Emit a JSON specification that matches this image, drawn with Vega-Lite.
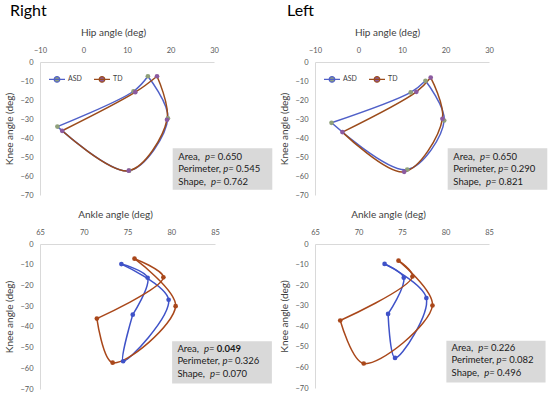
{
  "$schema": "https://vega.github.io/schema/vega-lite/v6.json",
  "background": "white",
  "padding": {"left": 4, "top": 3, "right": 0, "bottom": 0},
  "datasets": {
    "gait": [
      {"panel": "RH", "group": "ASD", "phase": "stance", "seq": 1, "angle": 14.8, "knee": -7.5},
      {"panel": "RH", "group": "ASD", "phase": "stance", "seq": 2, "angle": 11.5, "knee": -15.4},
      {"panel": "RH", "group": "ASD", "phase": "stance", "seq": 3, "angle": -6.0, "knee": -34.0},
      {"panel": "RH", "group": "ASD", "phase": "swing", "seq": 3, "angle": -6.0, "knee": -34.0},
      {"panel": "RH", "group": "ASD", "phase": "swing", "seq": 4, "angle": 10.5, "knee": -57.2},
      {"panel": "RH", "group": "ASD", "phase": "swing", "seq": 5, "angle": 19.4, "knee": -29.6},
      {"panel": "RH", "group": "ASD", "phase": "swing", "seq": 6, "angle": 14.8, "knee": -7.5},
      {"panel": "RH", "group": "TD", "phase": "stance", "seq": 1, "angle": 16.9, "knee": -7.5},
      {"panel": "RH", "group": "TD", "phase": "stance", "seq": 2, "angle": 11.9, "knee": -15.9},
      {"panel": "RH", "group": "TD", "phase": "stance", "seq": 3, "angle": -4.9, "knee": -36.2},
      {"panel": "RH", "group": "TD", "phase": "swing", "seq": 3, "angle": -4.9, "knee": -36.2},
      {"panel": "RH", "group": "TD", "phase": "swing", "seq": 4, "angle": 10.4, "knee": -57.2},
      {"panel": "RH", "group": "TD", "phase": "swing", "seq": 5, "angle": 19.2, "knee": -30.4},
      {"panel": "RH", "group": "TD", "phase": "swing", "seq": 6, "angle": 16.9, "knee": -7.5},
      {"panel": "LH", "group": "ASD", "phase": "stance", "seq": 1, "angle": 15.4, "knee": -9.9},
      {"panel": "LH", "group": "ASD", "phase": "stance", "seq": 2, "angle": 12.0, "knee": -16.0},
      {"panel": "LH", "group": "ASD", "phase": "stance", "seq": 3, "angle": -6.2, "knee": -32.0},
      {"panel": "LH", "group": "ASD", "phase": "swing", "seq": 3, "angle": -6.2, "knee": -32.0},
      {"panel": "LH", "group": "ASD", "phase": "swing", "seq": 4, "angle": 11.2, "knee": -56.6},
      {"panel": "LH", "group": "ASD", "phase": "swing", "seq": 5, "angle": 19.7, "knee": -30.8},
      {"panel": "LH", "group": "ASD", "phase": "swing", "seq": 6, "angle": 15.4, "knee": -9.9},
      {"panel": "LH", "group": "TD", "phase": "stance", "seq": 1, "angle": 16.6, "knee": -8.2},
      {"panel": "LH", "group": "TD", "phase": "stance", "seq": 2, "angle": 13.3, "knee": -15.7},
      {"panel": "LH", "group": "TD", "phase": "stance", "seq": 3, "angle": -3.7, "knee": -36.9},
      {"panel": "LH", "group": "TD", "phase": "swing", "seq": 3, "angle": -3.7, "knee": -36.9},
      {"panel": "LH", "group": "TD", "phase": "swing", "seq": 4, "angle": 10.5, "knee": -57.8},
      {"panel": "LH", "group": "TD", "phase": "swing", "seq": 5, "angle": 19.3, "knee": -29.9},
      {"panel": "LH", "group": "TD", "phase": "swing", "seq": 6, "angle": 16.6, "knee": -8.2},
      {"panel": "RA", "group": "ASD", "phase": "stance", "seq": 1, "angle": 74.3, "knee": -9.7},
      {"panel": "RA", "group": "ASD", "phase": "stance", "seq": 2, "angle": 77.3, "knee": -16.3},
      {"panel": "RA", "group": "ASD", "phase": "stance", "seq": 3, "angle": 75.6, "knee": -34.1},
      {"panel": "RA", "group": "ASD", "phase": "swing", "seq": 3, "angle": 75.6, "knee": -34.1},
      {"panel": "RA", "group": "ASD", "phase": "swing", "seq": 4, "angle": 74.5, "knee": -56.6},
      {"panel": "RA", "group": "ASD", "phase": "swing", "seq": 5, "angle": 79.7, "knee": -26.9},
      {"panel": "RA", "group": "ASD", "phase": "swing", "seq": 6, "angle": 74.3, "knee": -9.7},
      {"panel": "RA", "group": "TD", "phase": "stance", "seq": 1, "angle": 75.8, "knee": -7.1},
      {"panel": "RA", "group": "TD", "phase": "stance", "seq": 2, "angle": 79.1, "knee": -16.1},
      {"panel": "RA", "group": "TD", "phase": "stance", "seq": 3, "angle": 71.5, "knee": -36.0},
      {"panel": "RA", "group": "TD", "phase": "swing", "seq": 3, "angle": 71.5, "knee": -36.0},
      {"panel": "RA", "group": "TD", "phase": "swing", "seq": 4, "angle": 73.3, "knee": -57.3},
      {"panel": "RA", "group": "TD", "phase": "swing", "seq": 5, "angle": 80.5, "knee": -30.0},
      {"panel": "RA", "group": "TD", "phase": "swing", "seq": 6, "angle": 75.8, "knee": -7.1},
      {"panel": "LA", "group": "ASD", "phase": "stance", "seq": 1, "angle": 73.0, "knee": -9.7},
      {"panel": "LA", "group": "ASD", "phase": "stance", "seq": 2, "angle": 75.2, "knee": -16.4},
      {"panel": "LA", "group": "ASD", "phase": "stance", "seq": 3, "angle": 73.4, "knee": -34.0},
      {"panel": "LA", "group": "ASD", "phase": "swing", "seq": 3, "angle": 73.4, "knee": -34.0},
      {"panel": "LA", "group": "ASD", "phase": "swing", "seq": 4, "angle": 74.2, "knee": -55.4},
      {"panel": "LA", "group": "ASD", "phase": "swing", "seq": 5, "angle": 77.8, "knee": -26.3},
      {"panel": "LA", "group": "ASD", "phase": "swing", "seq": 6, "angle": 73.0, "knee": -9.7},
      {"panel": "LA", "group": "TD", "phase": "stance", "seq": 1, "angle": 74.6, "knee": -8.1},
      {"panel": "LA", "group": "TD", "phase": "stance", "seq": 2, "angle": 76.2, "knee": -15.8},
      {"panel": "LA", "group": "TD", "phase": "stance", "seq": 3, "angle": 67.9, "knee": -37.2},
      {"panel": "LA", "group": "TD", "phase": "swing", "seq": 3, "angle": 67.9, "knee": -37.2},
      {"panel": "LA", "group": "TD", "phase": "swing", "seq": 4, "angle": 70.6, "knee": -58.1},
      {"panel": "LA", "group": "TD", "phase": "swing", "seq": 5, "angle": 78.5, "knee": -29.9},
      {"panel": "LA", "group": "TD", "phase": "swing", "seq": 6, "angle": 74.6, "knee": -8.1}
    ],
    "stats": [
      {"panel": "RH", "metric": "Area", "label": "Area,", "p": 0.650},
      {"panel": "RH", "metric": "Perimeter", "label": "Perimeter,", "p": 0.545},
      {"panel": "RH", "metric": "Shape", "label": "Shape,", "p": 0.762},
      {"panel": "LH", "metric": "Area", "label": "Area,", "p": 0.650},
      {"panel": "LH", "metric": "Perimeter", "label": "Perimeter,", "p": 0.290},
      {"panel": "LH", "metric": "Shape", "label": "Shape,", "p": 0.821},
      {"panel": "RA", "metric": "Area", "label": "Area,", "p": 0.049},
      {"panel": "RA", "metric": "Perimeter", "label": "Perimeter,", "p": 0.326},
      {"panel": "RA", "metric": "Shape", "label": "Shape,", "p": 0.070},
      {"panel": "LA", "metric": "Area", "label": "Area,", "p": 0.226},
      {"panel": "LA", "metric": "Perimeter", "label": "Perimeter,", "p": 0.082},
      {"panel": "LA", "metric": "Shape", "label": "Shape,", "p": 0.496}
    ]
  },
  "config": {
    "font": "Lato",
    "view": {"stroke": null},
    "axis": {
      "grid": false, "ticks": false, "tickSize": 0, "domainColor": "#D9D9D9", "domainWidth": 1,
      "labelFont": "Lato", "labelFontSize": 7.5, "labelColor": "#595959", "labelFlush": false, "labelOverlap": false,
      "titleFont": "Lato", "titleFontSize": 10, "titleFontWeight": "normal", "titleColor": "#404040"
    },
    "axisX": {"labelPadding": 8, "titlePadding": 9, "tickCount": 10},
    "axisY": {"labelPadding": 7, "titlePadding": 5, "tickCount": 10},
    "text": {"font": "Lato", "fontSize": 9.5, "color": "#1A1A1A", "align": "left", "baseline": "middle"},
    "title": {"font": "Lato", "fontSize": 16, "fontWeight": "normal", "color": "#000000", "anchor": "start", "frame": "group", "offset": 8}
  },
  "columns": 2,
  "bounds": "flush",
  "spacing": {"row": 49, "column": 100},
  "resolve": {"scale": {"stroke": "independent", "fill": "independent"}, "legend": {"stroke": "independent", "fill": "independent"}},
  "concat": [
    {
      "width": 174, "height": 133,
      "title": {"text": "Right", "dx": -30},
      "layer": [
        {"data": {"values": [{}]}, "mark": {"type": "rect", "color": "#D9D9D9"},
         "encoding": {"x": {"datum": 20.5, "type": "quantitative"}, "x2": {"datum": 43.4}, "y": {"datum": -45.4, "type": "quantitative"}, "y2": {"datum": -67.2}}},
        {"data": {"name": "gait"}, "transform": [{"filter": "datum.panel == 'RH'"}],
         "mark": {"type": "line", "interpolate": "catmull-rom", "strokeWidth": 1.5},
         "encoding": {
           "x": {"field": "angle", "type": "quantitative", "scale": {"domain": [-10, 30], "nice": false, "zero": false}, "axis": {"orient": "top", "title": "Hip angle (deg)", "values": [-10, 0, 10, 20, 30], "tickCount": 10, "titleX": 73}},
           "y": {"field": "knee", "type": "quantitative", "scale": {"domain": [-70, 0], "nice": false}, "axis": {"title": "Knee angle (deg)", "values": [0, -10, -20, -30, -40, -50, -60, -70], "tickCount": 10}},
           "stroke": {"field": "group", "type": "nominal", "scale": {"domain": ["ASD", "TD"], "range": ["#5060C8", "#9B4B1B"]},
             "legend": {"orient": "none", "legendX": 8, "legendY": 8, "direction": "horizontal", "title": null, "symbolType": "M-1,0L1,0M-0.35,0a0.35,0.35 0 1,0 0.7,0a0.35,0.35 0 1,0 -0.7,0", "symbolSize": 256, "symbolStrokeWidth": 1.2, "labelFontSize": 7, "labelColor": "#404040", "labelOffset": 2, "columnPadding": 9, "padding": 0,
               "encode": {"symbols": {"update": {"fill": {"signal": "datum.value === 'ASD' ? '#8FA07A' : '#8B5A9F'"}, "fillOpacity": {"value": 1}}}}}},
           "detail": {"field": "phase"},
           "order": {"field": "seq"}
         }},
        {"data": {"name": "gait"}, "transform": [{"filter": "datum.panel == 'RH' && (datum.phase == 'stance' || datum.seq == 4 || datum.seq == 5)"}],
         "mark": {"type": "point", "filled": true, "size": 22, "opacity": 1},
         "encoding": {
           "x": {"field": "angle", "type": "quantitative"},
           "y": {"field": "knee", "type": "quantitative"},
           "fill": {"field": "group", "type": "nominal", "scale": {"domain": ["ASD", "TD"], "range": ["#8FA07A", "#8B5A9F"]}, "legend": null}
         }},
        {"data": {"name": "stats"}, "transform": [{"filter": "datum.panel == 'RH' && datum.metric == 'Area'"}], "mark": {"type": "text"},
         "encoding": {"x": {"datum": 21.8}, "y": {"datum": -50.1}, "text": {"field": "label"}}},
        {"data": {"name": "stats"}, "transform": [{"filter": "datum.panel == 'RH' && datum.metric == 'Area'"}], "mark": {"type": "text", "fontStyle": "italic", "dx": 26.7},
         "encoding": {"x": {"datum": 21.8}, "y": {"datum": -50.1}, "text": {"value": "p="}}},
        {"data": {"name": "stats"}, "transform": [{"filter": "datum.panel == 'RH' && datum.metric == 'Area'"}], "mark": {"type": "text", "dx": 39.4},
         "encoding": {"x": {"datum": 21.8}, "y": {"datum": -50.1}, "text": {"field": "p", "format": ".3f"}}},
        {"data": {"name": "stats"}, "transform": [{"filter": "datum.panel == 'RH' && datum.metric == 'Perimeter'"}], "mark": {"type": "text"},
         "encoding": {"x": {"datum": 21.8}, "y": {"datum": -56.5}, "text": {"field": "label"}}},
        {"data": {"name": "stats"}, "transform": [{"filter": "datum.panel == 'RH' && datum.metric == 'Perimeter'"}], "mark": {"type": "text", "fontStyle": "italic", "dx": 45},
         "encoding": {"x": {"datum": 21.8}, "y": {"datum": -56.5}, "text": {"value": "p="}}},
        {"data": {"name": "stats"}, "transform": [{"filter": "datum.panel == 'RH' && datum.metric == 'Perimeter'"}], "mark": {"type": "text", "dx": 57.7},
         "encoding": {"x": {"datum": 21.8}, "y": {"datum": -56.5}, "text": {"field": "p", "format": ".3f"}}},
        {"data": {"name": "stats"}, "transform": [{"filter": "datum.panel == 'RH' && datum.metric == 'Shape'"}], "mark": {"type": "text"},
         "encoding": {"x": {"datum": 21.8}, "y": {"datum": -62.9}, "text": {"field": "label"}}},
        {"data": {"name": "stats"}, "transform": [{"filter": "datum.panel == 'RH' && datum.metric == 'Shape'"}], "mark": {"type": "text", "fontStyle": "italic", "dx": 32.7},
         "encoding": {"x": {"datum": 21.8}, "y": {"datum": -62.9}, "text": {"value": "p="}}},
        {"data": {"name": "stats"}, "transform": [{"filter": "datum.panel == 'RH' && datum.metric == 'Shape'"}], "mark": {"type": "text", "dx": 45.4},
         "encoding": {"x": {"datum": 21.8}, "y": {"datum": -62.9}, "text": {"field": "p", "format": ".3f"}}}
      ]
    },
    {
      "width": 174, "height": 133,
      "title": {"text": "Left", "dx": -28},
      "layer": [
        {"data": {"values": [{}]}, "mark": {"type": "rect", "color": "#D9D9D9"},
         "encoding": {"x": {"datum": 20.5, "type": "quantitative"}, "x2": {"datum": 43.4}, "y": {"datum": -45.4, "type": "quantitative"}, "y2": {"datum": -67.2}}},
        {"data": {"name": "gait"}, "transform": [{"filter": "datum.panel == 'LH'"}],
         "mark": {"type": "line", "interpolate": "catmull-rom", "strokeWidth": 1.5},
         "encoding": {
           "x": {"field": "angle", "type": "quantitative", "scale": {"domain": [-10, 30], "nice": false, "zero": false}, "axis": {"orient": "top", "title": "Hip angle (deg)", "values": [-10, 0, 10, 20, 30], "tickCount": 10, "titleX": 72}},
           "y": {"field": "knee", "type": "quantitative", "scale": {"domain": [-70, 0], "nice": false}, "axis": {"title": "Knee angle (deg)", "values": [0, -10, -20, -30, -40, -50, -60, -70], "tickCount": 10}},
           "stroke": {"field": "group", "type": "nominal", "scale": {"domain": ["ASD", "TD"], "range": ["#5060C8", "#9B4B1B"]},
             "legend": {"orient": "none", "legendX": 8, "legendY": 8, "direction": "horizontal", "title": null, "symbolType": "M-1,0L1,0M-0.35,0a0.35,0.35 0 1,0 0.7,0a0.35,0.35 0 1,0 -0.7,0", "symbolSize": 256, "symbolStrokeWidth": 1.2, "labelFontSize": 7, "labelColor": "#404040", "labelOffset": 2, "columnPadding": 9, "padding": 0,
               "encode": {"symbols": {"update": {"fill": {"signal": "datum.value === 'ASD' ? '#8FA07A' : '#8B5A9F'"}, "fillOpacity": {"value": 1}}}}}},
           "detail": {"field": "phase"},
           "order": {"field": "seq"}
         }},
        {"data": {"name": "gait"}, "transform": [{"filter": "datum.panel == 'LH' && (datum.phase == 'stance' || datum.seq == 4 || datum.seq == 5)"}],
         "mark": {"type": "point", "filled": true, "size": 22, "opacity": 1},
         "encoding": {
           "x": {"field": "angle", "type": "quantitative"},
           "y": {"field": "knee", "type": "quantitative"},
           "fill": {"field": "group", "type": "nominal", "scale": {"domain": ["ASD", "TD"], "range": ["#8FA07A", "#8B5A9F"]}, "legend": null}
         }},
        {"data": {"name": "stats"}, "transform": [{"filter": "datum.panel == 'LH' && datum.metric == 'Area'"}], "mark": {"type": "text"},
         "encoding": {"x": {"datum": 21.8}, "y": {"datum": -50.1}, "text": {"field": "label"}}},
        {"data": {"name": "stats"}, "transform": [{"filter": "datum.panel == 'LH' && datum.metric == 'Area'"}], "mark": {"type": "text", "fontStyle": "italic", "dx": 26.7},
         "encoding": {"x": {"datum": 21.8}, "y": {"datum": -50.1}, "text": {"value": "p="}}},
        {"data": {"name": "stats"}, "transform": [{"filter": "datum.panel == 'LH' && datum.metric == 'Area'"}], "mark": {"type": "text", "dx": 39.4},
         "encoding": {"x": {"datum": 21.8}, "y": {"datum": -50.1}, "text": {"field": "p", "format": ".3f"}}},
        {"data": {"name": "stats"}, "transform": [{"filter": "datum.panel == 'LH' && datum.metric == 'Perimeter'"}], "mark": {"type": "text"},
         "encoding": {"x": {"datum": 21.8}, "y": {"datum": -56.5}, "text": {"field": "label"}}},
        {"data": {"name": "stats"}, "transform": [{"filter": "datum.panel == 'LH' && datum.metric == 'Perimeter'"}], "mark": {"type": "text", "fontStyle": "italic", "dx": 45},
         "encoding": {"x": {"datum": 21.8}, "y": {"datum": -56.5}, "text": {"value": "p="}}},
        {"data": {"name": "stats"}, "transform": [{"filter": "datum.panel == 'LH' && datum.metric == 'Perimeter'"}], "mark": {"type": "text", "dx": 57.7},
         "encoding": {"x": {"datum": 21.8}, "y": {"datum": -56.5}, "text": {"field": "p", "format": ".3f"}}},
        {"data": {"name": "stats"}, "transform": [{"filter": "datum.panel == 'LH' && datum.metric == 'Shape'"}], "mark": {"type": "text"},
         "encoding": {"x": {"datum": 21.8}, "y": {"datum": -62.9}, "text": {"field": "label"}}},
        {"data": {"name": "stats"}, "transform": [{"filter": "datum.panel == 'LH' && datum.metric == 'Shape'"}], "mark": {"type": "text", "fontStyle": "italic", "dx": 32.7},
         "encoding": {"x": {"datum": 21.8}, "y": {"datum": -62.9}, "text": {"value": "p="}}},
        {"data": {"name": "stats"}, "transform": [{"filter": "datum.panel == 'LH' && datum.metric == 'Shape'"}], "mark": {"type": "text", "dx": 45.4},
         "encoding": {"x": {"datum": 21.8}, "y": {"datum": -62.9}, "text": {"field": "p", "format": ".3f"}}}
      ]
    },
    {
      "width": 175, "height": 145,
      "layer": [
        {"data": {"values": [{}]}, "mark": {"type": "rect", "color": "#D9D9D9"},
         "encoding": {"x": {"datum": 80.1, "type": "quantitative"}, "x2": {"datum": 91.5}, "y": {"datum": -47.0, "type": "quantitative"}, "y2": {"datum": -67.3}}},
        {"data": {"name": "gait"}, "transform": [{"filter": "datum.panel == 'RA'"}],
         "mark": {"type": "line", "interpolate": "catmull-rom", "strokeWidth": 1.5},
         "encoding": {
           "x": {"field": "angle", "type": "quantitative", "scale": {"domain": [65, 85], "nice": false, "zero": false}, "axis": {"orient": "top", "title": "Ankle angle (deg)", "values": [65, 70, 75, 80, 85], "tickCount": 10, "titleX": 75}},
           "y": {"field": "knee", "type": "quantitative", "scale": {"domain": [-70, 0], "nice": false}, "axis": {"title": "Knee angle (deg)", "values": [0, -10, -20, -30, -40, -50, -60, -70], "tickCount": 10}},
           "stroke": {"field": "group", "type": "nominal", "scale": {"domain": ["ASD", "TD"], "range": ["#3F52C8", "#A9471A"]}, "legend": null},
           "detail": {"field": "phase"},
           "order": {"field": "seq"}
         }},
        {"data": {"name": "gait"}, "transform": [{"filter": "datum.panel == 'RA' && (datum.phase == 'stance' || datum.seq == 4 || datum.seq == 5)"}],
         "mark": {"type": "point", "filled": true, "size": 22, "opacity": 1},
         "encoding": {
           "x": {"field": "angle", "type": "quantitative"},
           "y": {"field": "knee", "type": "quantitative"},
           "fill": {"field": "group", "type": "nominal", "scale": {"domain": ["ASD", "TD"], "range": ["#3F52C8", "#A9471A"]}, "legend": null}
         }},
        {"data": {"name": "stats"}, "transform": [{"filter": "datum.panel == 'RA' && datum.metric == 'Area'"}], "mark": {"type": "text"},
         "encoding": {"x": {"datum": 80.7}, "y": {"datum": -50.6}, "text": {"field": "label"}}},
        {"data": {"name": "stats"}, "transform": [{"filter": "datum.panel == 'RA' && datum.metric == 'Area'"}], "mark": {"type": "text", "fontStyle": "italic", "dx": 26.7},
         "encoding": {"x": {"datum": 80.7}, "y": {"datum": -50.6}, "text": {"value": "p="}}},
        {"data": {"name": "stats"}, "transform": [{"filter": "datum.panel == 'RA' && datum.metric == 'Area'"}], "mark": {"type": "text", "dx": 39.4, "fontWeight": "bold"},
         "encoding": {"x": {"datum": 80.7}, "y": {"datum": -50.6}, "text": {"field": "p", "format": ".3f"}}},
        {"data": {"name": "stats"}, "transform": [{"filter": "datum.panel == 'RA' && datum.metric == 'Perimeter'"}], "mark": {"type": "text"},
         "encoding": {"x": {"datum": 80.7}, "y": {"datum": -56.6}, "text": {"field": "label"}}},
        {"data": {"name": "stats"}, "transform": [{"filter": "datum.panel == 'RA' && datum.metric == 'Perimeter'"}], "mark": {"type": "text", "fontStyle": "italic", "dx": 45},
         "encoding": {"x": {"datum": 80.7}, "y": {"datum": -56.6}, "text": {"value": "p="}}},
        {"data": {"name": "stats"}, "transform": [{"filter": "datum.panel == 'RA' && datum.metric == 'Perimeter'"}], "mark": {"type": "text", "dx": 57.7},
         "encoding": {"x": {"datum": 80.7}, "y": {"datum": -56.6}, "text": {"field": "p", "format": ".3f"}}},
        {"data": {"name": "stats"}, "transform": [{"filter": "datum.panel == 'RA' && datum.metric == 'Shape'"}], "mark": {"type": "text"},
         "encoding": {"x": {"datum": 80.7}, "y": {"datum": -62.6}, "text": {"field": "label"}}},
        {"data": {"name": "stats"}, "transform": [{"filter": "datum.panel == 'RA' && datum.metric == 'Shape'"}], "mark": {"type": "text", "fontStyle": "italic", "dx": 32.7},
         "encoding": {"x": {"datum": 80.7}, "y": {"datum": -62.6}, "text": {"value": "p="}}},
        {"data": {"name": "stats"}, "transform": [{"filter": "datum.panel == 'RA' && datum.metric == 'Shape'"}], "mark": {"type": "text", "dx": 45.4},
         "encoding": {"x": {"datum": 80.7}, "y": {"datum": -62.6}, "text": {"field": "p", "format": ".3f"}}}
      ]
    },
    {
      "width": 174, "height": 144,
      "layer": [
        {"data": {"values": [{}]}, "mark": {"type": "rect", "color": "#D9D9D9"},
         "encoding": {"x": {"datum": 80.1, "type": "quantitative"}, "x2": {"datum": 91.5}, "y": {"datum": -47.0, "type": "quantitative"}, "y2": {"datum": -67.3}}},
        {"data": {"name": "gait"}, "transform": [{"filter": "datum.panel == 'LA'"}],
         "mark": {"type": "line", "interpolate": "catmull-rom", "strokeWidth": 1.5},
         "encoding": {
           "x": {"field": "angle", "type": "quantitative", "scale": {"domain": [65, 85], "nice": false, "zero": false}, "axis": {"orient": "top", "title": "Ankle angle (deg)", "values": [65, 70, 75, 80, 85], "tickCount": 10, "titleX": 73}},
           "y": {"field": "knee", "type": "quantitative", "scale": {"domain": [-70, 0], "nice": false}, "axis": {"title": "Knee angle (deg)", "values": [0, -10, -20, -30, -40, -50, -60, -70], "tickCount": 10}},
           "stroke": {"field": "group", "type": "nominal", "scale": {"domain": ["ASD", "TD"], "range": ["#3F52C8", "#A9471A"]}, "legend": null},
           "detail": {"field": "phase"},
           "order": {"field": "seq"}
         }},
        {"data": {"name": "gait"}, "transform": [{"filter": "datum.panel == 'LA' && (datum.phase == 'stance' || datum.seq == 4 || datum.seq == 5)"}],
         "mark": {"type": "point", "filled": true, "size": 22, "opacity": 1},
         "encoding": {
           "x": {"field": "angle", "type": "quantitative"},
           "y": {"field": "knee", "type": "quantitative"},
           "fill": {"field": "group", "type": "nominal", "scale": {"domain": ["ASD", "TD"], "range": ["#3F52C8", "#A9471A"]}, "legend": null}
         }},
        {"data": {"name": "stats"}, "transform": [{"filter": "datum.panel == 'LA' && datum.metric == 'Area'"}], "mark": {"type": "text"},
         "encoding": {"x": {"datum": 80.7}, "y": {"datum": -50.6}, "text": {"field": "label"}}},
        {"data": {"name": "stats"}, "transform": [{"filter": "datum.panel == 'LA' && datum.metric == 'Area'"}], "mark": {"type": "text", "fontStyle": "italic", "dx": 26.7},
         "encoding": {"x": {"datum": 80.7}, "y": {"datum": -50.6}, "text": {"value": "p="}}},
        {"data": {"name": "stats"}, "transform": [{"filter": "datum.panel == 'LA' && datum.metric == 'Area'"}], "mark": {"type": "text", "dx": 39.4},
         "encoding": {"x": {"datum": 80.7}, "y": {"datum": -50.6}, "text": {"field": "p", "format": ".3f"}}},
        {"data": {"name": "stats"}, "transform": [{"filter": "datum.panel == 'LA' && datum.metric == 'Perimeter'"}], "mark": {"type": "text"},
         "encoding": {"x": {"datum": 80.7}, "y": {"datum": -56.6}, "text": {"field": "label"}}},
        {"data": {"name": "stats"}, "transform": [{"filter": "datum.panel == 'LA' && datum.metric == 'Perimeter'"}], "mark": {"type": "text", "fontStyle": "italic", "dx": 45},
         "encoding": {"x": {"datum": 80.7}, "y": {"datum": -56.6}, "text": {"value": "p="}}},
        {"data": {"name": "stats"}, "transform": [{"filter": "datum.panel == 'LA' && datum.metric == 'Perimeter'"}], "mark": {"type": "text", "dx": 57.7},
         "encoding": {"x": {"datum": 80.7}, "y": {"datum": -56.6}, "text": {"field": "p", "format": ".3f"}}},
        {"data": {"name": "stats"}, "transform": [{"filter": "datum.panel == 'LA' && datum.metric == 'Shape'"}], "mark": {"type": "text"},
         "encoding": {"x": {"datum": 80.7}, "y": {"datum": -62.6}, "text": {"field": "label"}}},
        {"data": {"name": "stats"}, "transform": [{"filter": "datum.panel == 'LA' && datum.metric == 'Shape'"}], "mark": {"type": "text", "fontStyle": "italic", "dx": 32.7},
         "encoding": {"x": {"datum": 80.7}, "y": {"datum": -62.6}, "text": {"value": "p="}}},
        {"data": {"name": "stats"}, "transform": [{"filter": "datum.panel == 'LA' && datum.metric == 'Shape'"}], "mark": {"type": "text", "dx": 45.4},
         "encoding": {"x": {"datum": 80.7}, "y": {"datum": -62.6}, "text": {"field": "p", "format": ".3f"}}}
      ]
    }
  ]
}
